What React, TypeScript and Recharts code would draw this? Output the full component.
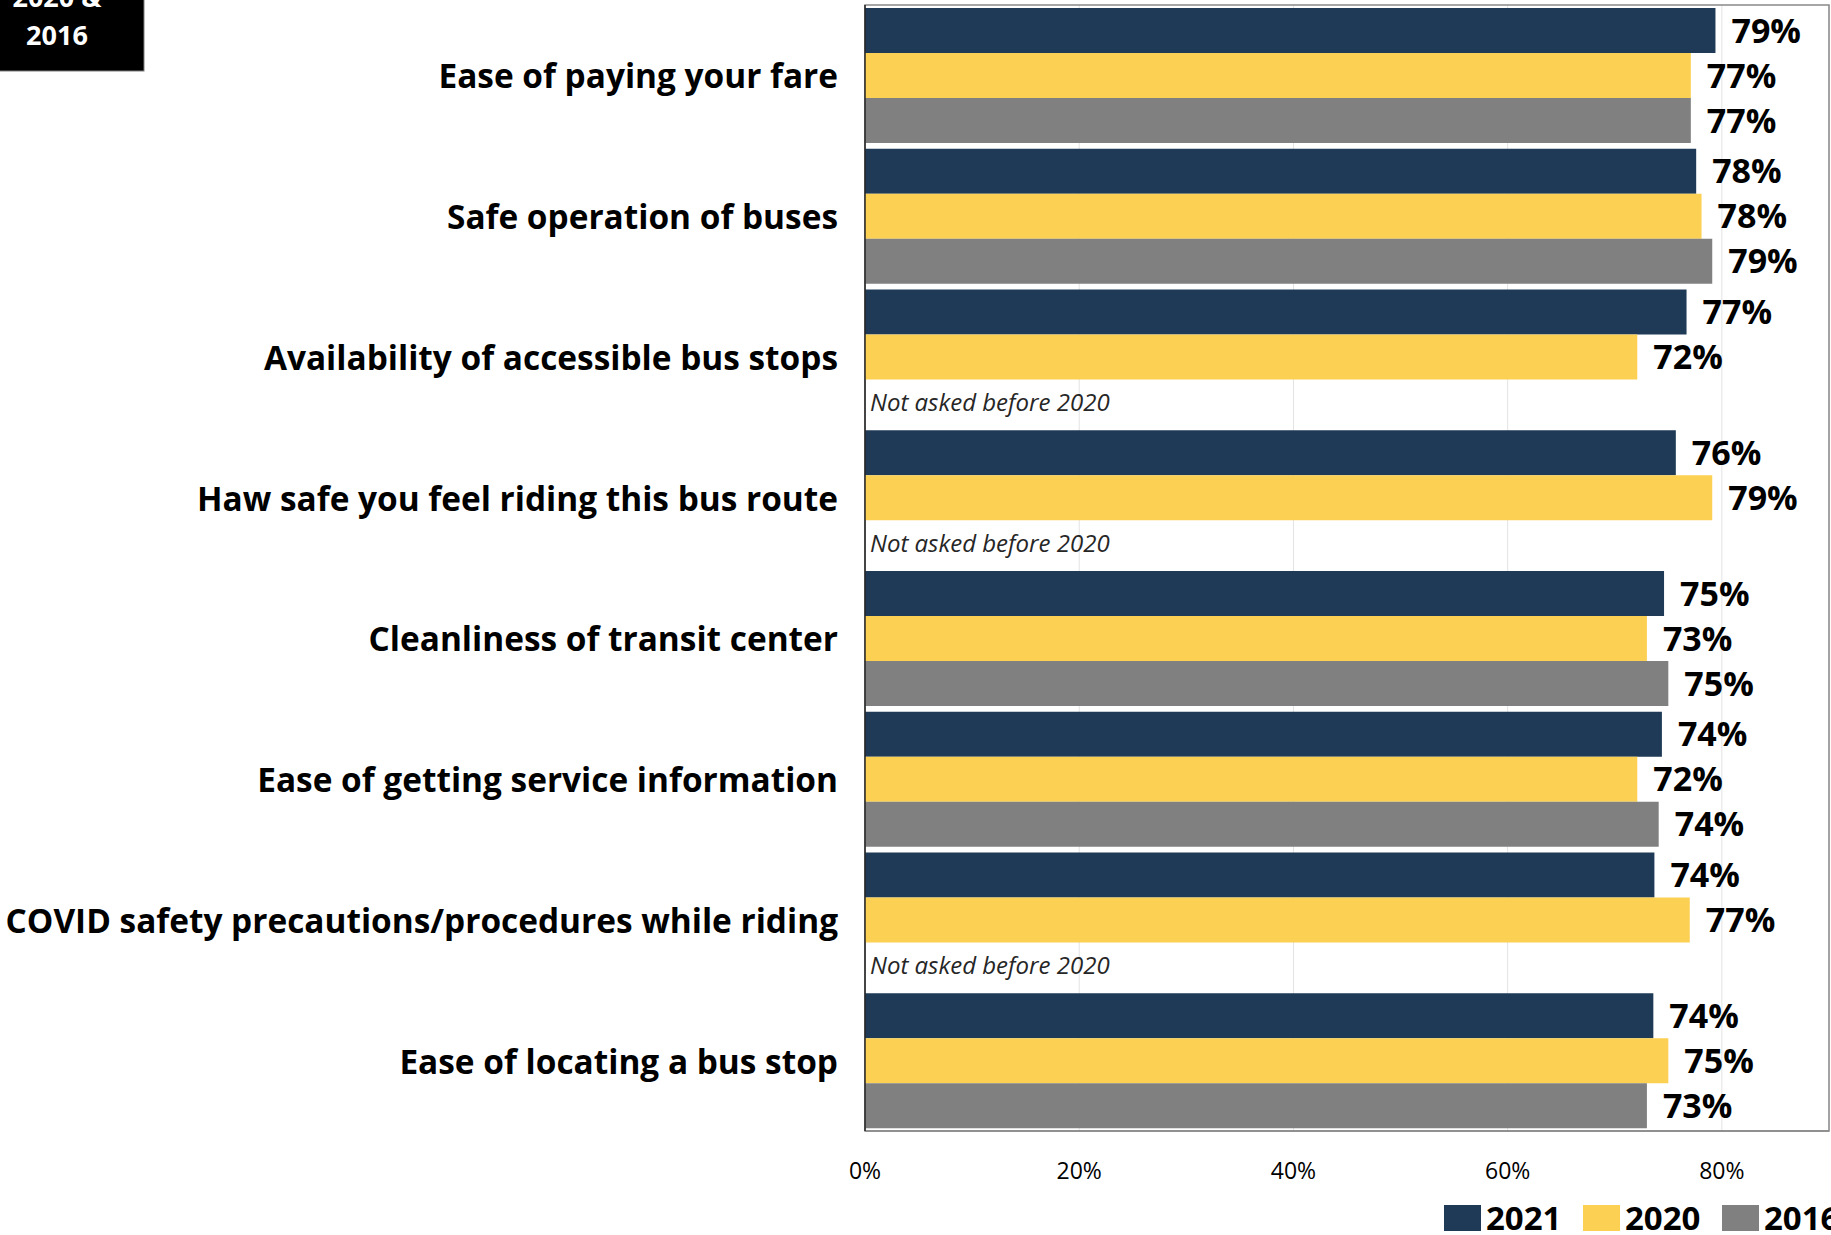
import { BarChart, Bar, XAxis, YAxis, CartesianGrid, LabelList, ReferenceArea } from 'recharts';

const categories = [
  'Ease of paying your fare',
  'Safe operation of buses',
  'Availability of accessible bus stops',
  'Haw safe you feel riding this bus route',
  'Cleanliness of transit center',
  'Ease of getting service information',
  'COVID safety precautions/procedures while riding',
  'Ease of locating a bus stop',
];
const values2021 = [79.4, 77.6, 76.7, 75.7, 74.6, 74.4, 73.7, 73.6];
const values2020 = [77.1, 78.1, 72.1, 79.1, 73.0, 72.1, 77.0, 75.0];
const values2016 = [77.1, 79.1, null, null, 75.0, 74.1, null, 73.0];
const seriesNames = ['2021', '2020', '2016'];
const seriesColors = ['#1F3A56', '#FCD052', '#808080'];
const xTicks = [0, 20, 40, 60, 80];
const noteText = 'Not asked before 2020';
const badgeLines = ['2020 &', '2016'];

const data = categories.map((name, i) => ({
  name,
  y2021: values2021[i],
  y2020: values2020[i],
  y2016: values2016[i],
}));

const FONT = '"Open Sans", "Noto Sans", sans-serif';
const BAR_SIZE = 45;

// category label on the left, plus the "not asked" note where 2016 is missing
const CategoryTick = ({ x, y, payload }: any) => {
  const idx = categories.indexOf(payload.value);
  const missing = idx >= 0 && values2016[idx] == null;
  return (
    <g>
      <text
        x={x - 25}
        y={y}
        textAnchor="end"
        dominantBaseline="central"
        fontFamily={FONT}
        fontWeight={700}
        fontSize={33.4}
        fill="#000"
      >
        {payload.value}
      </text>
      {missing && (
        <text
          x={x + 7}
          y={y + BAR_SIZE}
          dominantBaseline="central"
          fontFamily={FONT}
          fontStyle="italic"
          fontSize={24}
          fill="#262626"
        >
          {noteText}
        </text>
      )}
    </g>
  );
};

const PercentTick = ({ x, y, payload }: any) => (
  <text
    x={x}
    y={y + 37}
    textAnchor="middle"
    dominantBaseline="central"
    fontFamily={FONT}
    fontSize={23}
    fill="#000"
  >
    {payload.value}%
  </text>
);

const fmt = (v: any) => (v == null ? '' : `${Math.round(v)}%`);

export default function App() {
  return (
    <div style={{ position: 'relative', width: 1831, height: 1235, overflow: 'hidden', background: '#fff' }}>
      <style>{'body{margin:0}'}</style>
      <BarChart
        width={1831}
        height={1235}
        data={data}
        layout="vertical"
        margin={{ top: 5, right: 2, left: 0, bottom: 0 }}
        barCategoryGap={3}
        barGap={0}
      >
        <CartesianGrid horizontal={false} stroke="#E3E3E3" />
        <ReferenceArea x1={0} x2={90} stroke="#898989" strokeWidth={1.5} fill="none" fillOpacity={0} />
        <XAxis
          type="number"
          domain={[0, 90]}
          ticks={xTicks}
          height={104}
          tick={<PercentTick />}
          tickLine={false}
          tickSize={0}
          axisLine={{ stroke: '#898989', strokeWidth: 1.5 }}
          allowDataOverflow
        />
        <YAxis
          type="category"
          dataKey="name"
          width={865}
          tick={<CategoryTick />}
          tickLine={false}
          tickSize={0}
          axisLine={{ stroke: '#262626', strokeWidth: 1.5 }}
          interval={0}
        />
        {(['y2021', 'y2020', 'y2016'] as const).map((key, i) => (
          <Bar key={key} dataKey={key} name={seriesNames[i]} fill={seriesColors[i]} barSize={BAR_SIZE} isAnimationActive={false}>
            <LabelList
              dataKey={key}
              position="right"
              offset={16}
              formatter={fmt}
              style={{ fontFamily: FONT, fontWeight: 700, fontSize: 34, fill: '#000' }}
            />
          </Bar>
        ))}
      </BarChart>

      {/* top-left badge, cropped */}
      <svg width={146} height={73} style={{ position: 'absolute', left: 0, top: 0 }}>
        <rect x={-1} y={-1} width={145} height={72} fill="#000" stroke="#7F7F7F" strokeWidth={1} />
        {badgeLines.map((t, i) => (
          <text
            key={t}
            x={57}
            y={7 + i * 38}
            textAnchor="middle"
            fontFamily={FONT}
            fontWeight={700}
            fontSize={27}
            fill="#fff"
          >
            {t}
          </text>
        ))}
      </svg>

      {/* legend */}
      <svg width={420} height={38} style={{ position: 'absolute', left: 1440, top: 1197 }}>
        {seriesNames.map((n, i) => (
          <g key={n}>
            <rect x={4 + i * 139} y={8} width={37} height={26} fill={seriesColors[i]} />
            <text x={46 + i * 139} y={33} fontFamily={FONT} fontWeight={700} fontSize={33} fill="#000">
              {n}
            </text>
          </g>
        ))}
      </svg>
    </div>
  );
}
